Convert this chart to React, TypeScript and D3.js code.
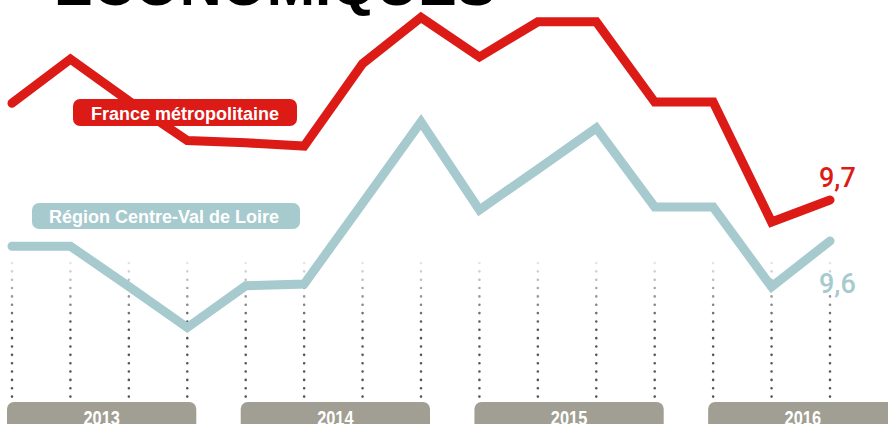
import React from "react";
import * as d3 from "d3";

const quarters = [
  "2013T1", "2013T2", "2013T3", "2013T4",
  "2014T1", "2014T2", "2014T3", "2014T4",
  "2015T1", "2015T2", "2015T3", "2015T4",
  "2016T1", "2016T2", "2016T3",
];
const franceValues = [10.14, 10.34, 10.15, 9.97, 9.96, 9.945, 10.32, 10.53, 10.35, 10.51, 10.51, 10.145, 10.145, 9.6, 9.7];
const centreValues = [9.49, 9.49, 9.307, 9.12, 9.31, 9.318, 9.686, 10.055, 9.655, 9.84, 10.027, 9.668, 9.668, 9.305, 9.514];
const years = ["2013", "2014", "2015", "2016"];
const franceLabel = "France métropolitaine";
const centreLabel = "Région Centre-Val de Loire";
const franceLast = "9,7";
const centreLast = "9,6";
const title = "ÉCONOMIQUES";

const RED = "#dc1b17";
const TEAL = "#a6cacd";
const GREY = "#a19f93";
const W = 888;
const H = 424;

export default function App() {
  const x = d3.scalePoint<string>().domain(quarters).range([12, 830]);
  const y = d3.scaleLinear().domain([9.0, 10.6]).range([354, 2]);
  const line = d3
    .line<number>()
    .x((_, i) => x(quarters[i]) as number)
    .y((d) => y(d));

  const step = x.step();
  const font = "'Liberation Sans', Arial, sans-serif";
  const labelFont = "Roboto, 'Liberation Sans', Arial, sans-serif";
  const lastX = (x(quarters[quarters.length - 1]) as number) - 11;

  return (
    <svg
      width={W}
      height={H}
      style={{ position: "absolute", left: 0, top: 0, background: "#fff" }}
    >
      <defs>
        <linearGradient id="dotfade" gradientUnits="userSpaceOnUse" x1="0" y1="262" x2="0" y2="325">
          <stop offset="0" stopColor="#e6e6e6" />
          <stop offset="1" stopColor="#555555" />
        </linearGradient>
      </defs>

      <text
        x={54}
        y={5}
        fontFamily={font}
        fontWeight="bold"
        fontSize={58}
        fill="#000"
      >
        {title}
      </text>

      {quarters.map((q) => (
        <line
          key={q}
          x1={x(q)}
          x2={x(q)}
          y1={263}
          y2={398}
          stroke="url(#dotfade)"
          strokeWidth={2.6}
          strokeLinecap="round"
          strokeDasharray="0 8.35"
        />
      ))}

      {years.map((yr, i) => {
        const first = x(quarters[i * 4]) as number;
        const bx = first - 5;
        const bw = step * 3 + 14;
        const cx = bx + bw / 2;
        return (
          <g key={yr}>
            <rect x={bx} y={402} width={bw} height={34} rx={7} fill={GREY} />
            <text
              transform={`translate(${cx},424.5) scale(0.78,1)`}
              textAnchor="middle"
              fontFamily={font}
              fontWeight="bold"
              fontSize={21}
              fill="#fff"
            >
              {yr}
            </text>
          </g>
        );
      })}

      <path
        d={line(centreValues) || ""}
        fill="none"
        stroke={TEAL}
        strokeWidth={9}
        strokeLinejoin="miter"
        strokeLinecap="round"
      />
      <path
        d={line(franceValues) || ""}
        fill="none"
        stroke={RED}
        strokeWidth={9}
        strokeLinejoin="miter"
        strokeLinecap="round"
      />

      <rect x={73} y={99} width={224} height={27} rx={7} fill={RED} />
      <text
        x={185}
        y={119.5}
        textAnchor="middle"
        fontFamily={font}
        fontWeight="bold"
        fontSize={18}
        fill="#fff"
      >
        {franceLabel}
      </text>

      <rect x={32} y={203} width={268} height={26} rx={7} fill={TEAL} />
      <text
        x={164}
        y={223}
        textAnchor="middle"
        fontFamily={font}
        fontWeight="bold"
        fontSize={18}
        fill="#fff"
      >
        {centreLabel}
      </text>

      <text x={lastX} y={187} fontFamily={labelFont} fontWeight={500} fontSize={27} fill={RED}>
        {franceLast}
      </text>
      <text x={lastX} y={293} fontFamily={labelFont} fontWeight={500} fontSize={27} fill={TEAL}>
        {centreLast}
      </text>
    </svg>
  );
}
